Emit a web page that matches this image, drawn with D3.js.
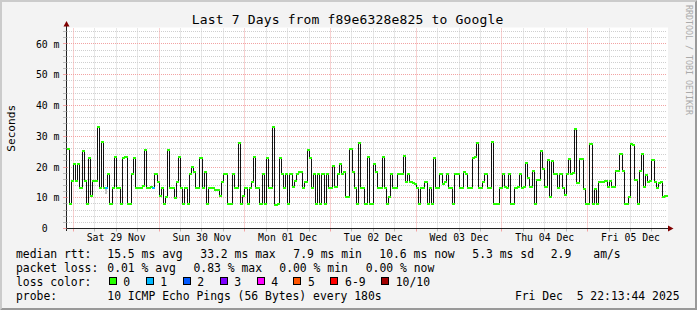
<!DOCTYPE html>
<html>
<head>
<meta charset="utf-8">
<script src="https://cdn.jsdelivr.net/npm/d3@7"></script>
<style>
  body { margin: 0; background: #f3f3f3; }
  svg { display: block; }
  text { font-family: "DejaVu Sans Mono", monospace; fill: #000; white-space: pre; }
</style>
</head>
<body>
<svg id="chart"></svg>
<script>
// median rtt in ms, one value per 36 minute step (280 steps = 7 days)
var medianMs = [
  26, 8, 15.5, 21, 15.5, 21, 13.2, 25.5, 15.5, 8, 23, 10.6, 15.5, 15.5, 33.1, 13.2, 28.2, 13.2, 13.2, 18,
  8, 13.2, 23.4, 13.2, 13.2, 8, 23, 23.4, 8, 8, 18, 23, 13.2, 13.2, 13.2, 14, 25.8, 13.2, 13.2, 13.5,
  13.2, 18, 15.2, 10.8, 13.2, 8, 10.5, 25.8, 13.2, 13.2, 10.1, 15.2, 23.4, 13.2, 8, 13.2, 8, 18, 20.3, 18.5,
  13.2, 13.2, 23, 13.2, 18.5, 8, 13.2, 13.2, 13.2, 12.7, 12.7, 10.8, 15.2, 18, 18, 8, 8, 18, 13.2, 13.2,
  28, 8, 10.8, 13.2, 8, 13.2, 15.2, 23.4, 13.2, 13.2, 8, 18, 8, 23, 13.2, 13.2, 33.3, 7.9, 8, 23,
  18, 13.2, 18, 8, 18, 13.5, 15.5, 18, 18.5, 18.5, 13.2, 15.2, 25.8, 23, 13.2, 18, 8, 18, 8, 18,
  8, 18, 13.2, 13.2, 20.5, 13.5, 18, 21, 18, 18.5, 10.4, 10.4, 25.9, 18.5, 13.2, 8, 27.9, 13.2, 13.2, 8,
  23.4, 8, 8, 21, 18.5, 13.2, 13.2, 23.4, 13.2, 8, 10.4, 18, 13.2, 13.2, 18, 18, 18, 23.6, 15.2, 18,
  15.2, 15, 14.5, 13.2, 8, 13.2, 13.2, 15.2, 8, 13.2, 8, 23, 13.2, 13.2, 18, 14.7, 15.2, 18, 13.2, 13.2,
  8, 18, 18, 13.2, 13.2, 18.5, 18, 13.2, 13.2, 23, 23.4, 27.9, 13.2, 13.2, 15.2, 18, 13.2, 13.2, 28.3, 8,
  8, 8, 13.2, 18, 13.5, 13.2, 18, 8, 8, 13.2, 13.5, 18, 13.2, 13.8, 21.5, 16.7, 13.8, 19, 8.2, 15.8,
  16, 25.5, 19.5, 13.7, 22.3, 10.4, 22, 18, 18, 13.2, 18, 13.2, 10.9, 18, 22.9, 18, 18.2, 32.6, 15, 22.9,
  22.9, 13, 8, 8, 27.7, 8, 13, 8, 15.2, 15.2, 15.4, 15.6, 13.7, 15.6, 13.7, 13.7, 19, 19, 24.4, 19,
  8, 8, 10.4, 27.5, 27.3, 16, 8, 19, 24.4, 13.7, 17.7, 15.2, 15.5, 22.5, 15.2, 13.2, 15.1, 15.2, 10.4, 10.6
]

// steps that lost pings, and how many of 10
var lossSteps = [18, 40]
var lossCounts = [1, 1]

// visible smoke (spread of the pings) in ms
var smokeSteps = [18]
var smokeLow = [10.9]
var smokeHigh = [13.2]

var yTicks = [0, 10, 20, 30, 40, 50, 60]
var yTickLabels = ["0", "10", "20", "30", "40", "50", "60"]

var lossColors = ["#26ff00", "#00b8ff", "#0059ff", "#7e00ff", "#ff00ff", "#ff5500", "#ff0000", "#a10000"]
var lossLabels = ["0", "1", "2", "3", "4", "5", "6-9", "10/10"]

var rttStats = ["15.5 ms avg", "33.2 ms max", "7.9 ms min", "10.6 ms now", "5.3 ms sd", "2.9", "am/s"]
var lossStats = ["0.01 % avg", "0.83 % max", "0.00 % min", "0.00 % now"]
var probeText = "10 ICMP Echo Pings (56 Bytes) every 180s"
var stampText = "Fri Dec  5 22:13:44 2025"
var titleText = "Last 7 Days from f89e6328e825 to Google"

var width = 697,
    height = 310

var plotLeft = 67, plotRight = 667, plotTop = 28.5, plotBottom = 228.5

var endTime = new Date(Date.UTC(2025, 11, 5, 22, 13, 44))
var startTime = new Date(+endTime - 7 * 864e5)
var stepMs = 36 * 60 * 1000

var svg = d3.select("#chart")
    .attr("width", width)
    .attr("height", height)

// background + 3d frame like rrdtool
svg.append("rect").attr("width", width).attr("height", height).attr("fill", "#f3f3f3")
svg.append("path").attr("fill", "#cbcbcb")
    .attr("d", "M0,0H" + width + "L" + (width - 2) + ",2H2V" + (height - 2) + "L0," + height + "Z")
svg.append("path").attr("fill", "#999999")
    .attr("d", "M" + width + ",0V" + height + "H0L2," + (height - 2) + "H" + (width - 2) + "V2Z")

var x = d3.scaleUtc().domain([startTime, endTime]).range([plotLeft, plotRight])
var y = d3.scaleLinear().domain([0, 200 / 3.075]).range([plotBottom, plotTop])

function px(v) { return Math.floor(v) + 0.5 }
function stepTime(i) { return new Date(+startTime + i * stepMs) }

// white canvas
svg.append("rect")
    .attr("x", plotLeft).attr("y", plotTop - 1)
    .attr("width", plotRight - plotLeft + 1).attr("height", plotBottom - plotTop + 1)
    .attr("fill", "#ffffff")

// smoke
smokeSteps.forEach(function (s, k) {
  svg.append("rect")
      .attr("x", Math.floor(x(stepTime(s)))).attr("width", Math.floor(x(stepTime(s + 1))) - Math.floor(x(stepTime(s))))
      .attr("y", Math.floor(y(smokeHigh[k]))).attr("height", Math.floor(y(smokeLow[k])) - Math.floor(y(smokeHigh[k])))
      .attr("fill", "#c4c4c4")
})

// grid
var grid = svg.append("g").attr("stroke-dasharray", "1,1").attr("stroke-width", 1)

var sixHours = d3.utcHour.every(6).range(startTime, endTime).filter(function (d) { return d.getUTCHours() != 0 })
var days = d3.utcDay.range(startTime, endTime)

grid.selectAll(".vmin").data(sixHours).enter().append("line")
    .attr("x1", function (d) { return px(x(d)) }).attr("x2", function (d) { return px(x(d)) })
    .attr("y1", plotTop).attr("y2", plotBottom)
    .attr("stroke", "#cfcfcf")

var minorY = d3.range(2, 65, 2).filter(function (v) { return v % 10 != 0 })
grid.selectAll(".hmin").data(minorY).enter().append("line")
    .attr("x1", plotLeft).attr("x2", plotRight)
    .attr("y1", function (d) { return px(y(d)) }).attr("y2", function (d) { return px(y(d)) })
    .attr("stroke", "#cfcfcf")

grid.selectAll(".vmaj").data(days).enter().append("line")
    .attr("x1", function (d) { return px(x(d)) }).attr("x2", function (d) { return px(x(d)) })
    .attr("y1", plotTop).attr("y2", plotBottom)
    .attr("stroke", "#f2a3a3")

grid.selectAll(".hmaj").data(yTicks.slice(1)).enter().append("line")
    .attr("x1", plotLeft).attr("x2", plotRight)
    .attr("y1", function (d) { return px(y(d)) }).attr("y2", function (d) { return px(y(d)) })
    .attr("stroke", "#f2a3a3")

// median line (black steps) then loss coloured blobs
var points = medianMs.map(function (v, i) { return [stepTime(i), v] })
points.push([endTime, medianMs[medianMs.length - 1]])

var line = d3.line()
    .x(function (d) { return px(x(d[0])) })
    .y(function (d) { return px(y(d[1])) })
    .curve(d3.curveStepAfter)

svg.append("path")
    .datum(points)
    .attr("d", line)
    .attr("fill", "none")
    .attr("stroke", "#111")
    .attr("stroke-width", 1)
    .attr("shape-rendering", "crispEdges")

function lossOf(i) {
  var k = lossSteps.indexOf(i)
  return k < 0 ? 0 : lossCounts[k]
}
function lossColor(n) {
  if (n >= 10) return lossColors[7]
  if (n >= 6) return lossColors[6]
  return lossColors[n]
}

svg.selectAll(".blob").data(medianMs).enter().append("rect")
    .attr("x", function (d, i) { return Math.floor(x(stepTime(i))) })
    .attr("width", function (d, i) { return Math.floor(x(stepTime(i + 1))) - Math.floor(x(stepTime(i))) + 1 })
    .attr("y", function (d) { return Math.floor(y(d)) })
    .attr("height", 2)
    .attr("fill", function (d, i) { return lossColor(lossOf(i)) })

// axes
var axis = svg.append("g").attr("stroke", "#202020").attr("fill", "none")
axis.append("line").attr("x1", 63).attr("x2", 668).attr("y1", plotBottom).attr("y2", plotBottom)
axis.append("line").attr("x1", plotLeft - 0.5).attr("x2", plotLeft - 0.5).attr("y1", 231).attr("y2", 26)

svg.append("path").attr("fill", "#800000").attr("d", "M668,225.5L673.5,228.5L668,231.5Z")
svg.append("path").attr("fill", "#800000").attr("d", "M63.5,26.5L66.5,21L69.5,26.5Z")

// small ticks on the axes
svg.selectAll(".xt").data(sixHours.concat(days)).enter().append("line")
    .attr("x1", function (d) { return px(x(d)) }).attr("x2", function (d) { return px(x(d)) })
    .attr("y1", plotBottom + 0.5).attr("y2", plotBottom + 3)
    .attr("stroke", function (d) { return d.getUTCHours() == 0 ? "#f2a3a3" : "#bbbbbb" })

svg.selectAll(".yt").data(minorY.concat(yTicks)).enter().append("line")
    .attr("x1", 63).attr("x2", plotLeft - 0.5)
    .attr("y1", function (d) { return px(y(d)) }).attr("y2", function (d) { return px(y(d)) })
    .attr("stroke", function (d) { return d % 10 == 0 ? "#f2a3a3" : "#bbbbbb" })

// y labels
var ylab = svg.append("g").style("font-size", "9.8px")
ylab.selectAll(".yn").data(yTicks).enter().append("text")
    .attr("x", 47.7)
    .attr("y", function (d) { return y(d) + 3.6 })
    .attr("text-anchor", "end")
    .text(function (d, i) { return yTickLabels[i] })
ylab.selectAll(".yu").data(yTicks.slice(1)).enter().append("text")
    .attr("x", 53.6)
    .attr("y", function (d) { return y(d) + 3.6 })
    .text("m")

// x labels at noon of each day
var noons = days.map(function (d) { return new Date(+d + 12 * 3600e3) })
var fmt = d3.utcFormat("%a %d %b")
svg.append("g").style("font-size", "9.8px")
    .selectAll("text").data(noons).enter().append("text")
    .attr("x", function (d) { return x(d) })
    .attr("y", 241)
    .attr("text-anchor", "middle")
    .text(function (d) { return fmt(d) })

// title and side texts
svg.append("text")
    .attr("x", 191.7).attr("y", 24.2)
    .attr("textLength", 311.6)
    .style("font-size", "13px")
    .text(titleText)

svg.append("text")
    .attr("transform", "translate(14.5,128.3) rotate(-90)")
    .attr("text-anchor", "middle")
    .style("font-size", "11.1px")
    .text("Seconds")

svg.append("text")
    .attr("transform", "translate(685.5,5) rotate(90)")
    .style("font-size", "8.3px")
    .style("fill", "#aaaaaa")
    .text("RRDTOOL / TOBI OETIKER")

// legend
var leg = svg.append("g").style("font-size", "11.4px")
var rows = [258, 272, 286, 300]

leg.append("text").attr("x", 16).attr("y", rows[0]).text("median rtt:")
var rttX = [107.3, 200.3, 293.3, 379.3, 472.3, 550.7, 593.3]
rttStats.forEach(function (s, i) {
  leg.append("text").attr("x", rttX[i]).attr("y", rows[0]).text(s)
})

leg.append("text").attr("x", 16).attr("y", rows[1]).text("packet loss:")
var lossX = [107.3, 193.5, 279.3, 365.7]
lossStats.forEach(function (s, i) {
  leg.append("text").attr("x", lossX[i]).attr("y", rows[1]).text(s)
})

leg.append("text").attr("x", 16).attr("y", rows[2]).text("loss color:")
var bx = 108.7
lossLabels.forEach(function (s, i) {
  leg.append("rect")
      .attr("x", Math.round(bx) + 0.5).attr("y", rows[2] - 8.5)
      .attr("width", 7).attr("height", 7)
      .attr("fill", lossColors[i]).attr("stroke", "#000")
  var t = leg.append("text").attr("x", bx + 14.6).attr("y", rows[2]).text(s)
  bx = bx + 14.6 + t.node().getComputedTextLength() + 15.5
})

leg.append("text").attr("x", 16).attr("y", rows[3]).text("probe:")
leg.append("text").attr("x", 107.3).attr("y", rows[3]).text(probeText)
leg.append("text").attr("x", 679.5).attr("y", rows[3]).attr("text-anchor", "end").text(stampText)
</script>
</body>
</html>
